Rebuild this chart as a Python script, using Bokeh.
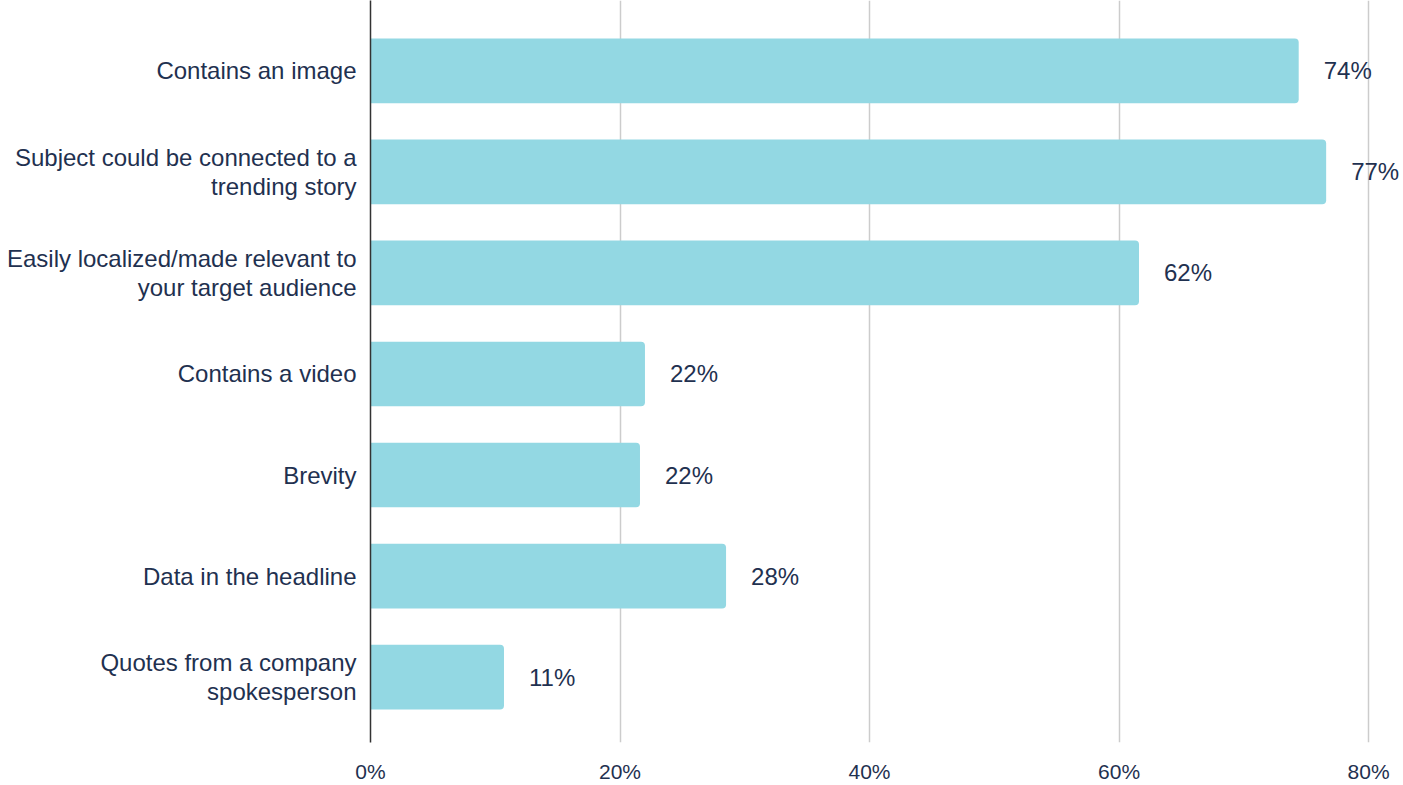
from bokeh.plotting import figure
from bokeh.models import ColumnDataSource, Range1d, FixedTicker
from bokeh.core.properties import value
from bokeh.embed import file_html
from bokeh.resources import INLINE

categories = [
    "Contains an image",
    "Subject could be connected to a\ntrending story",
    "Easily localized/made relevant to\nyour target audience",
    "Contains a video",
    "Brevity",
    "Data in the headline",
    "Quotes from a company\nspokesperson",
]
values = [74.4, 76.6, 61.6, 22.0, 21.6, 28.5, 10.7]
value_labels = ["74%", "77%", "62%", "22%", "22%", "28%", "11%"]
x_ticks = [0, 20, 40, 60, 80]
x_tick_labels = ["0%", "20%", "40%", "60%", "80%"]

FONT = "Liberation Sans"
TEXT_COLOR = "#1f3150"
BAR_COLOR = "#93d8e3"

pos = list(range(len(categories)))
src = ColumnDataSource(dict(y=pos, v=values, lab=value_labels))

p = figure(width=1403, height=785, output_backend="svg", toolbar_location=None,
           x_range=Range1d(0, 82.8), y_range=Range1d(6.647, -0.696),
           min_border_left=370, min_border_right=0, min_border_top=0,
           min_border_bottom=38)
p.outline_line_color = None
p.background_fill_color = "white"
p.border_fill_color = "white"

p.hbar(y="y", right="v", left=0, height=0.64, source=src, color=BAR_COLOR,
       line_color=None, border_radius=(0, 4, 4, 0))

p.text(x="v", y="y", text="lab", source=src, x_offset=25,
       text_baseline="middle", text_align="left",
       text_font=value(FONT), text_font_size="24px", text_color=TEXT_COLOR)

# x axis
p.xaxis.ticker = FixedTicker(ticks=x_ticks)
p.xaxis.major_label_overrides = {t: l for t, l in zip(x_ticks, x_tick_labels)}
p.xaxis.axis_line_color = None
p.xaxis.major_tick_line_color = None
p.xaxis.minor_tick_line_color = None
p.xaxis.major_label_text_font = FONT
p.xaxis.major_label_text_font_size = "21px"
p.xaxis.major_label_text_color = TEXT_COLOR
p.xaxis.major_label_standoff = 11

# y axis
p.yaxis.ticker = FixedTicker(ticks=pos)
p.yaxis.major_label_overrides = {i: c for i, c in zip(pos, categories)}
p.yaxis.axis_line_color = "#333333"
p.yaxis.axis_line_width = 1.5
p.yaxis.major_tick_line_color = None
p.yaxis.minor_tick_line_color = None
p.yaxis.major_label_text_font = FONT
p.yaxis.major_label_text_font_size = "24px"
p.yaxis.major_label_text_line_height = 1.05
p.yaxis.major_label_text_color = TEXT_COLOR
p.yaxis.major_label_standoff = 8
p.yaxis.major_label_text_align = "right"

p.xgrid.grid_line_color = "#cccccc"
p.xgrid.grid_line_width = 1.5
p.ygrid.grid_line_color = None

open("out.html", "w").write(file_html(p, INLINE))
